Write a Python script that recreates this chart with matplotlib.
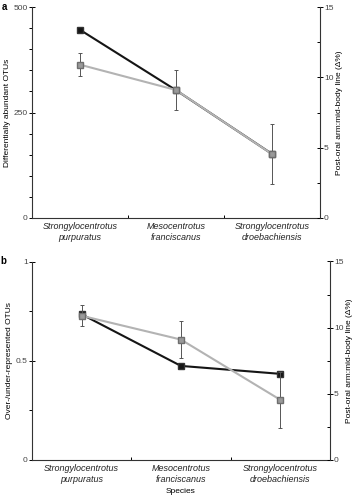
import numpy as np
import matplotlib
matplotlib.use("Agg")
import matplotlib.pyplot as plt
from matplotlib.ticker import MultipleLocator, FuncFormatter

plt.rcParams['font.family'] = ['Liberation Sans', 'DejaVu Sans']

species = ["Strongylocentrotus\npurpuratus", "Mesocentrotus\nfranciscanus",
           "Strongylocentrotus\ndroebachiensis"]

# panel a: differentially abundant OTUs (left axis)
otus_a = [446, 303, 152]
# panel b: over-/under-represented OTUs (left axis)
otus_b = [0.734, 0.474, 0.434]
# post-oral arm : mid-body line ratio (right axis), mean and error
arm_ratio = [10.9, 9.1, 4.55]
arm_err_lo = [0.8, 1.4, 2.1]
arm_err_hi = [0.8, 1.4, 2.1]

BLACK = "#151515"
GREY_LINE = "#b3b3b3"
GREY_FACE = "#9a9a9a"

fig = plt.figure(figsize=(3.59, 5.0), dpi=100)
fmt = FuncFormatter(lambda v, p: "{:g}".format(v))


def panel(rect, left_vals, ylim, major, minor, ylabel, letter, xlabel=None):
    ax = fig.add_axes(rect)
    x = np.arange(len(species))
    ax.plot(x, left_vals, color=BLACK, lw=1.5, marker="s", ms=5,
            mfc=BLACK, mec="#333333", zorder=3)
    ax.set_xlim(-0.5, 2.5)
    ax.set_ylim(*ylim)
    ax.yaxis.set_major_locator(MultipleLocator(major))
    ax.yaxis.set_minor_locator(MultipleLocator(minor))
    ax.yaxis.set_major_formatter(fmt)
    ax.set_xticks(x)
    ax.set_xticklabels(species, fontsize=6.5, style="italic", color="#222222")
    ax.set_xticks([0.5, 1.5], minor=True)
    ax.tick_params(axis="x", which="major", length=0, pad=3)
    ax.tick_params(axis="x", which="minor", length=2, direction="in", width=0.7)
    ax.tick_params(axis="y", which="major", direction="inout", length=4,
                   width=0.7, labelsize=6, pad=1, labelcolor="#444444")
    ax.tick_params(axis="y", which="minor", direction="out", length=2, width=0.7)
    ax.spines["top"].set_visible(False)
    ax.spines["right"].set_visible(False)
    for s in ("left", "bottom"):
        ax.spines[s].set_linewidth(0.8)
        ax.spines[s].set_color("#333333")
    ax.set_ylabel(ylabel, fontsize=6, labelpad=2)
    if xlabel:
        ax.set_xlabel(xlabel, fontsize=6, labelpad=3)
    ax.text(-0.105, 1.0, letter, transform=ax.transAxes, fontsize=7,
            fontweight="bold", va="center", ha="left")

    ax2 = ax.twinx()
    ax2.errorbar(x, arm_ratio, yerr=[arm_err_lo, arm_err_hi], color=GREY_LINE,
                 lw=1.5, marker="s", ms=5, mfc=GREY_FACE, mec="#6e6e6e",
                 ecolor="#555555", elinewidth=0.7, capsize=1.5, capthick=0.7,
                 zorder=4)
    ax2.set_ylim(0, 15)
    ax2.yaxis.set_major_locator(MultipleLocator(5))
    ax2.yaxis.set_minor_locator(MultipleLocator(2.5))
    ax2.tick_params(axis="y", which="major", direction="inout", length=4,
                    width=0.7, labelsize=6, pad=1, labelcolor="#444444")
    ax2.tick_params(axis="y", which="minor", direction="in", length=2, width=0.7)
    for s in ("top", "left", "bottom"):
        ax2.spines[s].set_visible(False)
    ax2.spines["right"].set_linewidth(0.8)
    ax2.spines["right"].set_color("#333333")
    ax2.set_ylabel("Post-oral arm:mid-body line (Δ%)", fontsize=6, labelpad=2)
    return ax


panel([0.089, 0.564, 0.802, 0.422], otus_a, (0, 500), 250, 50,
      "Differentially abundant OTUs", "a")
panel([0.089, 0.080, 0.830, 0.397], otus_b, (0, 1), 0.5, 0.25,
      "Over-/under-represented OTUs", "b", xlabel="Species")

fig.savefig("out.png", dpi=100)
